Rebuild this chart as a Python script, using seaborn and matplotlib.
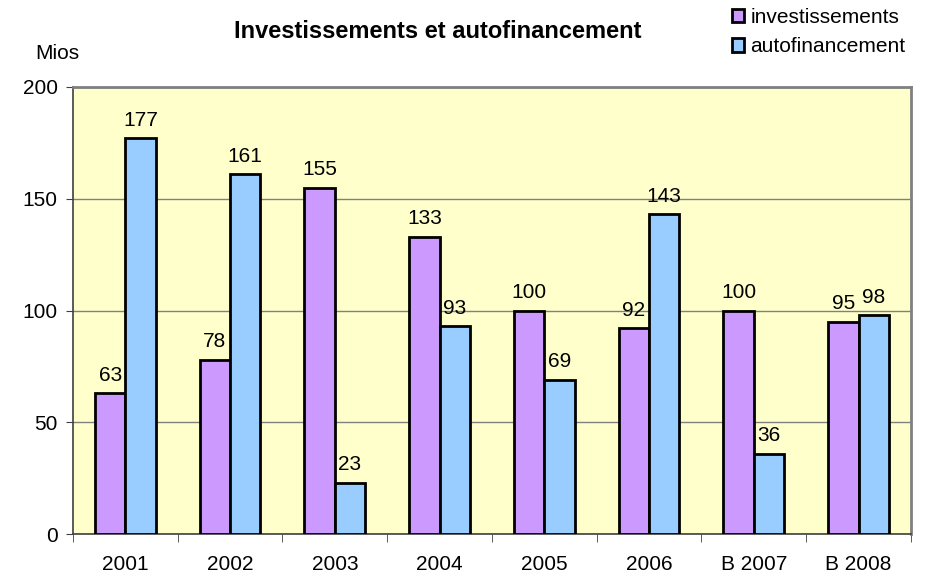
import pandas as pd
import seaborn as sns
import matplotlib.pyplot as plt

years = ['2001', '2002', '2003', '2004', '2005', '2006', 'B 2007', 'B 2008']
investissements = [63, 78, 155, 133, 100, 92, 100, 95]
autofinancement = [177, 161, 23, 93, 69, 143, 36, 98]
series = ['investissements', 'autofinancement']

df = pd.DataFrame({
    'annee': years * 2,
    'valeur': investissements + autofinancement,
    'serie': [series[0]] * len(years) + [series[1]] * len(years),
})

palette = {'investissements': '#CC99FF', 'autofinancement': '#99CCFF'}

plt.rcParams['font.family'] = ['Liberation Sans', 'DejaVu Sans']
fig = plt.figure(figsize=(9.26, 5.78), dpi=100)
ax = fig.add_axes([0.0788, 0.0761, 0.905, 0.7734])

sns.barplot(data=df, x='annee', y='valeur', hue='serie', palette=palette,
            width=0.58, gap=0, edgecolor='black', linewidth=2,
            saturation=1, ax=ax, legend=True, zorder=3)

ax.set_facecolor('#FFFFCC')
ax.set_ylim(0, 200)
ax.set_xlim(-0.5, len(years) - 0.5)
ax.set_yticks([0, 50, 100, 150, 200])
ax.yaxis.grid(True, color='#808080', linewidth=1, zorder=0)
ax.set_axisbelow(True)
ax.set_xlabel('')
ax.set_ylabel('')
ax.tick_params(axis='both', labelsize=15, length=5, color='#404040')
ax.tick_params(axis='y', pad=6)
ax.tick_params(axis='x', length=0, pad=15)
# category separator ticks
ax.set_xticks([i - 0.5 for i in range(len(years) + 1)], minor=True)
ax.tick_params(axis='x', which='minor', length=6, color='#404040')

for side in ['top', 'right']:
    ax.spines[side].set_color('#808080')
    ax.spines[side].set_linewidth(2)
for side in ['left', 'bottom']:
    ax.spines[side].set_color('#404040')
    ax.spines[side].set_linewidth(1.2)

for cont in ax.containers:
    ax.bar_label(cont, fontsize=15, padding=6)

ax.legend(loc='upper right', bbox_to_anchor=(0.98, 0.99), bbox_transform=fig.transFigure,
          frameon=False, fontsize=15, handlelength=0.6, handleheight=0.6,
          handletextpad=0.3, labelspacing=0.5, borderaxespad=0, borderpad=0.1)

fig.text(0.4725, 0.946, 'Investissements et autofinancement', ha='center', va='center',
         fontsize=17, fontweight='bold')
fig.text(0.062, 0.907, 'Mios', ha='center', va='center', fontsize=15)

plt.savefig('out.png', dpi=100)
